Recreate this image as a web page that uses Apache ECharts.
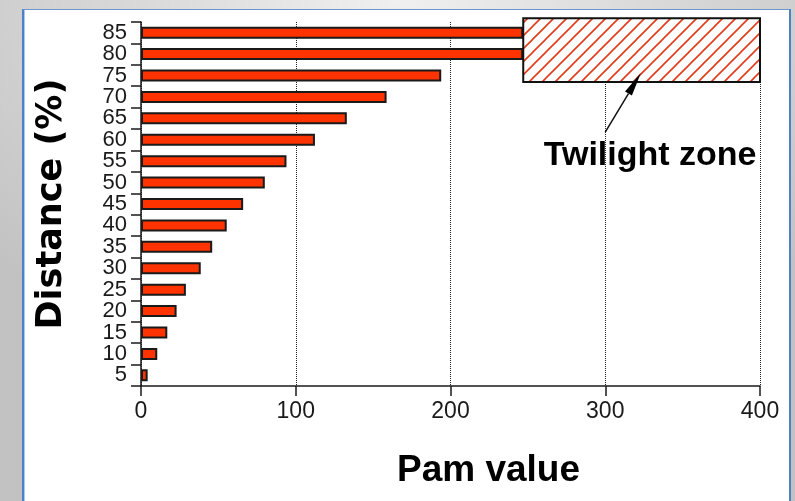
<!DOCTYPE html>
<html><head><meta charset="utf-8">
<script src="https://cdn.jsdelivr.net/npm/echarts@6/dist/echarts.min.js"></script>
<style>
html,body{margin:0;padding:0;width:795px;height:501px;overflow:hidden;}
body{background:radial-gradient(ellipse 75% 70% at 50% 0%, #f0f0f0 0%, #d8d8d8 45%, #c2c2c2 100%);}
#panel{position:absolute;left:22px;top:9px;width:765px;height:520px;background:#fff;border-left:2px solid #4f80c4;border-top:1px solid #6a95cf;border-right:2px solid #4f80c4;box-shadow:inset 1px 0 0 #a9c8ee;}
#chart{position:absolute;left:0;top:0;width:795px;height:501px;}
</style></head><body>
<div id="panel"></div><div id="chart"></div>
<script>
// ---- data ----
const categories = ['5','10','15','20','25','30','35','40','45','50','55','60','65','70','75','80','85'];
const pamValues  = [4.3, 10.5, 17, 23, 29, 38.6, 46, 55.4, 66, 80, 94, 112.4, 133, 158.7, 194, 247, 247];
const xTicks = [0, 100, 200, 300, 400];
// annotation in data units (x: Pam value, y: Distance %)
const zoneX = [247, 400];
const zoneY = [73.5, 88.4];
const arrowFrom = [300, 61.8];
const arrowTo = [323, 75.6];
const zoneLabel = 'Twilight zone';
const zoneLabelAt = [329, 56.4];

const chart = echarts.init(document.getElementById('chart'), null, {renderer:'canvas'});
chart.setOption({
  animation:false,
  backgroundColor:'transparent',
  grid:{left:141, right:35, top:22, bottom:115},
  xAxis:{
    type:'value', min:xTicks[0], max:xTicks[xTicks.length-1], interval:100,
    name:'Pam value', nameLocation:'middle', nameGap:66,
    nameTextStyle:{fontFamily:'Liberation Sans', fontWeight:'bold', fontSize:37, color:'#000', padding:[0,0,0,76]},
    axisLine:{show:true, lineStyle:{color:'#1a1a1a', width:1.5}},
    axisTick:{show:true, length:10, lineStyle:{color:'#1a1a1a', width:1.5}},
    axisLabel:{fontFamily:'Liberation Sans', fontSize:23, color:'#1a1a1a', margin:14},
    splitLine:{show:true, lineStyle:{color:'#222', width:1, type:[1,1]}}
  },
  yAxis:[{
    type:'category', data:categories,
    name:'Distance (%)', nameLocation:'middle', nameGap:72,
    nameTextStyle:{fontFamily:'DejaVu Sans', fontWeight:'bold', fontSize:35, color:'#000'},
    axisLine:{show:true, lineStyle:{color:'#1a1a1a', width:1.5}},
    axisTick:{show:true, length:10, interval:0, lineStyle:{color:'#1a1a1a', width:1.5}},
    axisLabel:{interval:0, fontFamily:'Liberation Sans', fontSize:22, color:'#1a1a1a', margin:14, padding:[0,0,12,0]},
    splitLine:{show:false}
  },{
    type:'value', min:2.5, max:87.5, show:false, splitLine:{show:false}
  }],
  series:[{
    type:'bar', data:pamValues, barWidth:12,
    itemStyle:{color:'#ff3300', borderColor:'#1a1a1a', borderWidth:2}
  }]
});

function makeHatch(){
  const s=13, c=document.createElement('canvas');
  c.width=s; c.height=s;
  const g=c.getContext('2d');
  g.fillStyle='#fff'; g.fillRect(0,0,s,s);
  g.strokeStyle='#e03c1a'; g.lineWidth=1.6;
  g.beginPath();
  g.moveTo(-2,s+2); g.lineTo(s+2,-2);
  g.moveTo(-2,2); g.lineTo(2,-2);
  g.moveTo(s-2,s+2); g.lineTo(s+2,s-2);
  g.stroke();
  return c;
}
const px = v => chart.convertToPixel({xAxisIndex:0}, v);
const py = v => chart.convertToPixel({yAxisIndex:1}, v);
const x0=px(zoneX[0]), x1=px(zoneX[1]), yTop=py(zoneY[1]), yBot=py(zoneY[0]);
const tx=px(arrowTo[0]), ty=py(arrowTo[1]), fx=px(arrowFrom[0]), fy=py(arrowFrom[1]);
const dx=tx-fx, dy=ty-fy, L=Math.hypot(dx,dy), ux=dx/L, uy=dy/L;
const hl=24, hw=4;
const bx=tx-ux*hl, by=ty-uy*hl;
chart.setOption({graphic:[
  {type:'rect', shape:{x:x0, y:yTop, width:x1-x0, height:yBot-yTop}, z:10,
   style:{fill:{image:makeHatch(), repeat:'repeat'}, stroke:'#111', lineWidth:2}},
  {type:'line', shape:{x1:fx, y1:fy, x2:bx, y2:by}, z:11, style:{stroke:'#111', lineWidth:1.5}},
  {type:'polygon', shape:{points:[[tx,ty],[bx-uy*hw, by+ux*hw],[bx+uy*hw, by-ux*hw]]}, z:11, style:{fill:'#000'}},
  {type:'text', x:px(zoneLabelAt[0]), y:py(zoneLabelAt[1]), z:11,
   style:{text:zoneLabel, fontFamily:'Liberation Sans', fontWeight:'bold', fontSize:34, fill:'#000', align:'center', verticalAlign:'middle'}}
]});
</script>
</body></html>
